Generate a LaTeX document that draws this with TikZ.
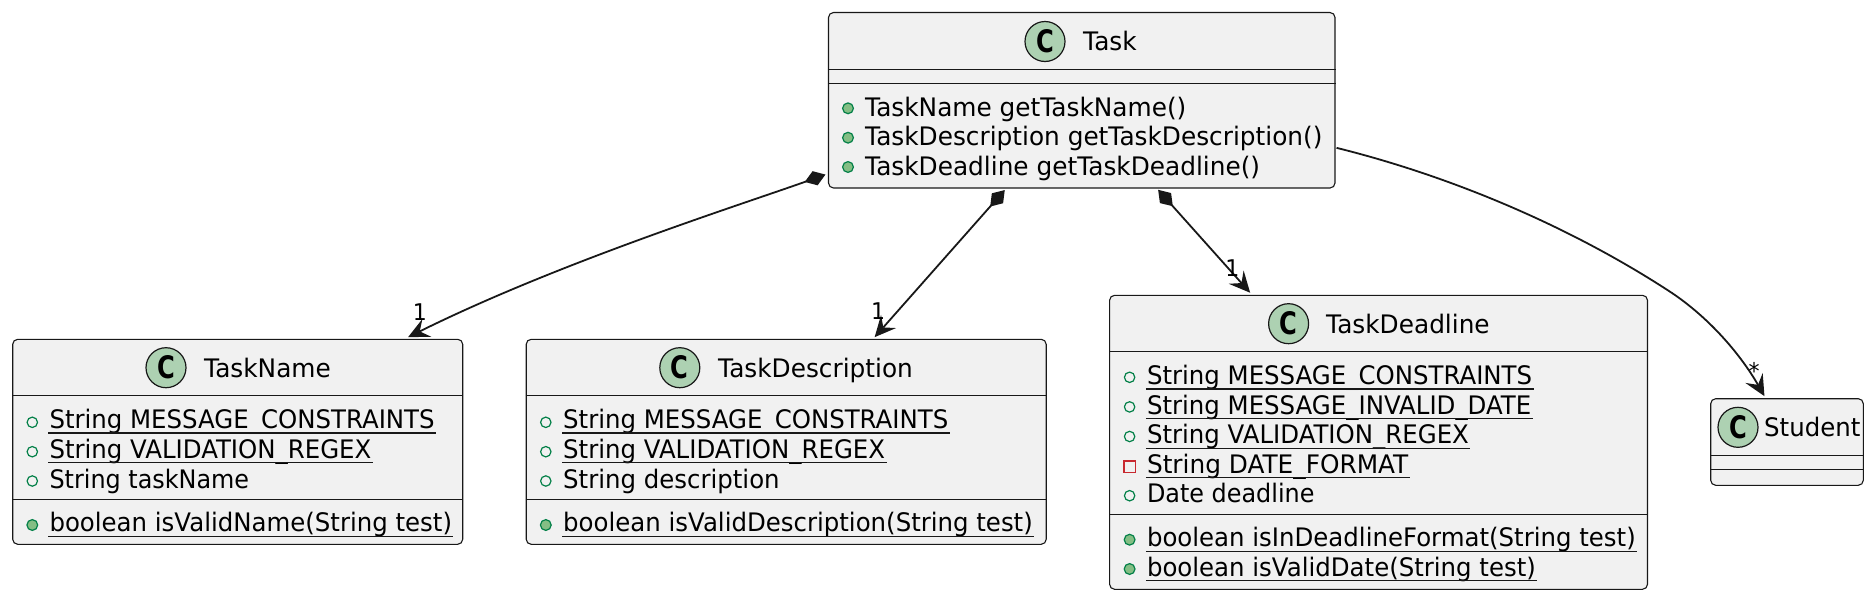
\documentclass[tikz,border=0pt]{standalone}
\usepackage{fontspec}
\setmainfont{DejaVu Sans}[FakeStretch=0.958]
\newfontfamily\titlefont[FakeStretch=0.972]{DejaVu Sans}
\newfontfamily\tightfont[FakeStretch=0.937]{DejaVu Sans}
\newfontfamily\cglyph[FakeStretch=0.78]{DejaVu Sans}
\usetikzlibrary{arrows.meta}
\definecolor{boxfill}{HTML}{F1F1F1}
\definecolor{ink}{HTML}{181818}
\definecolor{spot}{HTML}{ADD1B2}
\definecolor{pubgreen}{HTML}{038048}
\definecolor{methfill}{HTML}{84BE84}
\definecolor{privred}{HTML}{C82930}
\newcommand\memberfont{\fontsize{25.5pt}{29pt}\selectfont}
\newcommand\edgefont{\fontsize{23pt}{27pt}\selectfont}
\tikzset{
  x=1pt,y=-1pt,
  classbox/.style={draw=ink,fill=boxfill,line width=1.1pt,rounded corners=5pt,inner sep=0pt},
  sepline/.style={draw=ink,line width=1.1pt},
  spotc/.style={circle,draw=ink,fill=spot,line width=1.2pt,minimum size=40pt,inner sep=0pt,
    font=\cglyph\bfseries\fontsize{31pt}{31pt}\selectfont,text=black},
  label/.style={anchor=base west,inner sep=0pt,font=\memberfont,text=black},
  titlelabel/.style={label,font=\titlefont\memberfont},
  tightlabel/.style={label,font=\tightfont\memberfont},
  mult/.style={anchor=base,inner sep=0pt,font=\edgefont,text=black},
  field/.style={draw=pubgreen,line width=1.2pt,fill=none},
  meth/.style={draw=pubgreen,line width=1.2pt,fill=methfill},
  priv/.style={draw=privred,line width=1.2pt,fill=none},
  uline/.style={draw=ink,line width=1.2pt},
  edge/.style={draw=ink,line width=1.8pt},
  comp/.style={edge,{Diamond[length=22pt,width=15pt,line width=0pt,fill=ink]}-{Stealth[length=21pt,width=20pt,inset=8pt,line width=0pt,fill=ink]}},
  asso/.style={edge,-{Stealth[length=21pt,width=20pt,inset=8pt,line width=0pt,fill=ink]}},
}
\newcommand\classbox[5]{\node[classbox,minimum width={(#4-#2)*1pt},minimum height={(#5-#3)*1pt}] (#1) at ({(#2+#4)/2},{(#3+#5)/2}) {};}
\newcommand\divider[2]{\draw[sepline] ([yshift=-#2pt]#1.north west) -- ([yshift=-#2pt]#1.north east);}
\newcommand\mem[4]{\node[label] (#1) at (#2,#3) {#4};}
\newcommand\ttl[4]{\node[titlelabel] (#1) at (#2,#3) {#4};}
\newcommand\tgt[4]{\node[tightlabel] (#1) at (#2,#3) {#4};}
\newcommand\underl[1]{\draw[uline] ([shift={(-1pt,-4.6pt)}]#1.base west) -- ([shift={(1.2pt,-4.6pt)}]#1.base east);}
\newcommand\umem[4]{\mem{#1}{#2}{#3}{#4}\underl{#1}}
\newcommand\pubf[2]{\draw[field] (#1,#2) circle (5.2pt);}
\newcommand\pubm[2]{\draw[meth] (#1,#2) circle (5.4pt);}
\begin{document}
\begin{tikzpicture}
\useasboundingbox (0,0) rectangle (1874,600);
% Task
\classbox{task}{828.5}{12.5}{1335}{188}
\divider{task}{57.8}
\divider{task}{71.8}
\node[spotc] (taskc) at (1045,41.5) {C};
\ttl{taskt}{1083}{50.7}{Task}
\pubm{848}{108.3}\ttl{t1}{865}{116}{TaskName getTaskName()}
\pubm{848}{137.7}\ttl{t2}{865}{145.5}{TaskDescription getTaskDescription()}
\pubm{848}{167}\ttl{t3}{865}{175}{TaskDeadline getTaskDeadline()}
% TaskName
\classbox{name}{12.7}{339.3}{462.7}{544.3}
\divider{name}{57}
\divider{name}{161}
\node[spotc] (namec) at (166,367.7) {C};
\ttl{namet}{204}{377}{TaskName}
\pubf{32.3}{422.3}\umem{n1}{49.3}{428.3}{String MESSAGE\_CONSTRAINTS}
\pubf{32.3}{451.7}\umem{n2}{49.3}{458}{String VALIDATION\_REGEX}
\pubf{32.3}{481}\tgt{n3}{49.3}{488}{String taskName}
\pubm{32.3}{525}\umem{n4}{49.3}{531.7}{boolean isValidName(String test)}
% TaskDescription
\classbox{desc}{526.2}{339.3}{1046.2}{544.3}
\divider{desc}{57}
\divider{desc}{161}
\node[spotc] (descc) at (679.8,367.7) {C};
\ttl{desct}{718}{377}{TaskDescription}
\pubf{545.8}{422.3}\umem{d1}{563}{428.3}{String MESSAGE\_CONSTRAINTS}
\pubf{545.8}{451.7}\umem{d2}{563}{458}{String VALIDATION\_REGEX}
\pubf{545.8}{481}\mem{d3}{563}{488}{String description}
\pubm{545.8}{525}\umem{d4}{563}{531.7}{boolean isValidDescription(String test)}
% TaskDeadline
\classbox{dead}{1109.6}{295.3}{1647.5}{589.3}
\divider{dead}{56.7}
\divider{dead}{220}
\node[spotc] (deadc) at (1288.6,323.7) {C};
\ttl{deadt}{1326}{333.3}{TaskDeadline}
\pubf{1129.6}{377.3}\umem{e1}{1146.8}{384.3}{String MESSAGE\_CONSTRAINTS}
\pubf{1129.6}{406.9}\umem{e2}{1146.8}{414}{String MESSAGE\_INVALID\_DATE}
\pubf{1129.6}{436.5}\umem{e3}{1146.8}{443.6}{String VALIDATION\_REGEX}
\draw[priv] (1124,461) rectangle (1135.5,472.3);\ttl{e4}{1146.8}{473}{String DATE\_FORMAT}\underl{e4}
\pubf{1129.6}{495.7}\tgt{e5}{1146.8}{502.5}{Date deadline}
\pubm{1129.6}{539.7}\umem{e6}{1146.8}{546.7}{boolean isInDeadlineFormat(String test)}
\pubm{1129.6}{569}\umem{e7}{1146.8}{576}{boolean isValidDate(String test)}
% Student
\classbox{stud}{1710.7}{398.7}{1863.3}{485.3}
\divider{stud}{57.6}
\divider{stud}{71.6}
\node[spotc] (studc) at (1738,427.3) {C};
\mem{studt}{1764}{436.7}{Student}
% connector ends
\coordinate (a1) at ([shift={(-2.5pt,14pt)}]task.south west);
\coordinate (b1) at ([shift={(395.9pt,1.6pt)}]name.north west);
\coordinate (a2) at ([shift={(176.8pt,-1.5pt)}]task.south west);
\coordinate (b2) at ([shift={(349pt,1.6pt)}]desc.north west);
\coordinate (a3) at ([shift={(330.2pt,-1.3pt)}]task.south west);
\coordinate (b3) at ([shift={(141.1pt,2pt)}]dead.north west);
\coordinate (a4) at ([shift={(1pt,40.7pt)}]task.south east);
\coordinate (b4) at ([shift={(54.3pt,2pt)}]stud.north west);
\draw[comp] (a1) .. controls (740,205) and (560,262) .. (b1);
\draw[comp] (a2) -- (b2);
\draw[comp] (a3) -- (b3);
\draw[asso] (a4) .. controls (1450,176) and (1570,226) .. (1672,293) .. controls (1712,320) and (1742,357) .. (b4);
\node[mult] (m1) at (420,320) {1};
\node[mult] (m2) at (878,319.5) {1};
\node[mult] (m3) at (1232.3,276) {1};
\node[mult] (m4) at (1754,379) {*};
\end{tikzpicture}
\end{document}
